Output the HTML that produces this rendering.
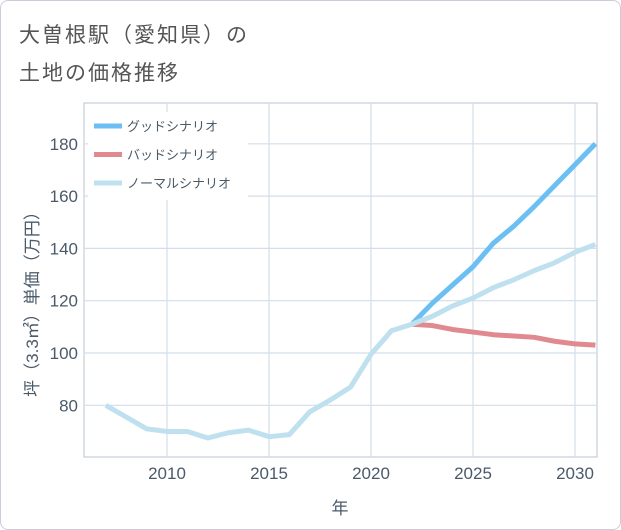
<!DOCTYPE html>
<html><head><meta charset="utf-8"><style>
body{margin:0;background:#fff;font-family:"Liberation Sans","Noto Sans CJK JP",sans-serif;}
#wrap{position:relative;width:619px;height:528px;border:1px solid #ccd;border-radius:8px;overflow:hidden;background:#fff}
.t{position:absolute;left:18px;color:#555;font-size:21px;letter-spacing:2px}
</style></head><body>
<div id="wrap">
<div class="t" style="top:18px">大曽根駅（愛知県）の</div>
<div class="t" style="top:56px">土地の価格推移</div>
<svg id="c" width="621" height="530" style="position:absolute;left:-1px;top:-1px"></svg>
</div>
<script>
const years=[2007,2008,2009,2010,2011,2012,2013,2014,2015,2016,2017,2018,2019,2020,2021,2022,2023,2024,2025,2026,2027,2028,2029,2030,2031];
const normalVals=[80,75.5,71,70,70,67.5,69.5,70.5,68,68.8,77.5,82,87,99.5,108.5,111,114,118,121,125,128,131.5,134.5,138.5,141.5];
const futureYears=[2022,2023,2024,2025,2026,2027,2028,2029,2030,2031];
const goodVals=[111,119,126,133,142,148.5,156,164,172,180];
const badVals=[111,110.5,109,108,107,106.5,106,104.5,103.5,103];
const xTicks=[2010,2015,2020,2025,2030];
const yTicks=[80,100,120,140,160,180];
const L=84,R=597,T=103,B=457;
const x=v=>167+(v-2010)*20.4;
const y=v=>353-(v-100)*2.615;
const svg=document.getElementById('c');const NS='http://www.w3.org/2000/svg';
function mk(t,a,p){const e=document.createElementNS(NS,t);for(const k in a)e.setAttribute(k,a[k]);(p||svg).appendChild(e);return e;}
const frame=mk('rect',{x:L,y:T,width:R-L,height:B-T,fill:'none',stroke:'#bbc6d2'});


xTicks.forEach(v=>{const g=mk('line',{x1:x(v),x2:x(v),y1:T,y2:B,stroke:'#d3dee9','stroke-width':1.2});


const t=mk('text',{x:x(v),y:479,'text-anchor':'middle','font-size':17,fill:'#4a5a6a'});t.textContent=v;

});
yTicks.forEach(v=>{const g=mk('line',{x1:L,x2:R,y1:y(v),y2:y(v),stroke:'#d3dee9','stroke-width':1.2});


const t=mk('text',{x:78,y:y(v)+6,'text-anchor':'end','font-size':17,fill:'#4a5a6a'});t.textContent=v;

});
const xt=mk('text',{x:340,y:514,'text-anchor':'middle','font-size':17,fill:'#4a5a6a'});xt.textContent='年';


const yt=mk('text',{x:0,y:0,'text-anchor':'middle','font-size':17,fill:'#4a5a6a',transform:'translate(38,300) rotate(-90)'});yt.textContent='坪（3.3㎡）単価（万円）';


const cp=mk('clipPath',{id:'cp'});mk('rect',{x:L,y:T,width:R-L,height:B-T},cp);
function line(xs,vs,col,name){const p=mk('polyline',{points:xs.map((v,i)=>x(v)+','+y(vs[i])).join(' '),fill:'none',stroke:col,'stroke-width':5,'stroke-linejoin':'round','clip-path':'url(#cp)'});

}
line(futureYears,badVals,'#e08a90','bad-scenario-line');
line(futureYears,goodVals,'#6cbff2','good-scenario-line');
line(years,normalVals,'#bfe0ef','normal-scenario-line');
const lg=mk('rect',{x:88,y:112,width:160,height:88,fill:'#fff'});


[['グッドシナリオ','#6cbff2'],['バッドシナリオ','#e08a90'],['ノーマルシナリオ','#bfe0ef']].forEach((d,i)=>{const yy=126+i*28.5;
const l=mk('line',{x1:94,x2:122,y1:yy,y2:yy,stroke:d[1],'stroke-width':5});


const t=mk('text',{x:127,y:yy+5,'font-size':13,fill:'#4a5a6a'});t.textContent=d[0];

});
</script>
</body></html>
